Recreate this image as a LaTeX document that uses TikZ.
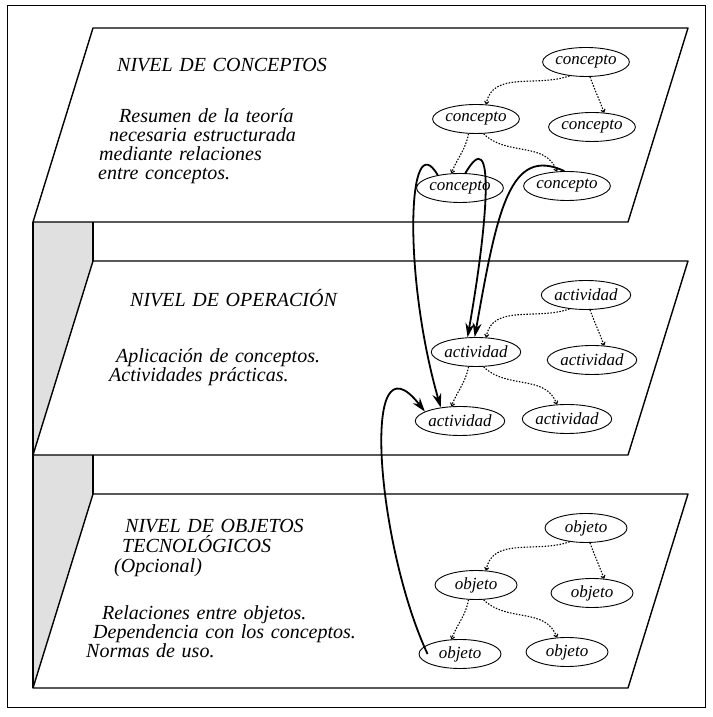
\documentclass[tikz,border=0pt]{standalone}
\usepackage{fontspec}
\setmainfont{Liberation Serif}
\usetikzlibrary{shapes.geometric,arrows.meta}
\tikzset{
  plane/.style={draw,line width=1.4pt,fill=white,line join=round},
  wall/.style={fill=black!12},
  elem/.style={draw,ellipse,line width=0.9pt,minimum width=82pt,minimum height=29pt,
    inner sep=0pt,font=\fontsize{17}{17}\selectfont\itshape},
  rel/.style={dash pattern=on 1.5pt off 1.5pt,line width=1.1pt,-{To[length=3.5pt,width=5pt]}},
  link/.style={line width=1.8pt,-{Stealth[length=14pt,width=9pt,fill=black!75]}},
  txt/.style={anchor=base west,inner sep=0pt,text width=330pt,align=left,
    font=\fontsize{20}{19}\selectfont\itshape}
}
\begin{document}
\begin{tikzpicture}[x=1pt,y=1pt]
\useasboundingbox (0,0) rectangle (712,717);
\draw[line width=0.8pt] (7,10) rectangle (705,712);
\foreach \t in {456,223}{
  \fill[wall] (33,\t+39) -- (93,\t+39) -- (93,\t) -- (33,\t-194) -- cycle;
  \draw[line width=1.4pt] (93,\t+39) -- (93,\t);
}
\draw[line width=1.4pt] (33,495) -- (33,29);
\foreach \t/\w/\n in {689/concepto/c,456/actividad/a,223/objeto/o}{
\begin{scope}[yshift=\t pt]
\draw[plane] (93,0) -- (688,0) -- (628,-194) -- (33,-194) -- cycle;
\node[elem] (\n1) at (586,-34) {\w};
\node[elem] (\n2) at (476,-91) {\w};
\node[elem] (\n3) at (592,-99) {\w};
\node[elem] (\n4) at (460,-160) {\w};
\node[elem] (\n5) at (567,-158) {\w};
\draw[rel] (\n1.220) to[out=200,in=80] (\n2.55);
\draw[rel] (\n1.285) to[out=-70,in=110] (\n3.50);
\draw[rel] (\n2.243) to[out=-100,in=70] (\n4.120);
\draw[rel] (\n2.297) to[out=-45,in=110] (\n5.125);
\end{scope}
}
\node[txt] (tc) at (117,645) {NIVEL DE CONCEPTOS};
\node[txt] (bc) at (98,594) {\hspace*{21pt}Resumen de la teoría\\ \hspace*{11pt}necesaria estructurada\\
  \hspace*{1pt}mediante relaciones\\ entre conceptos.};
\node[txt] (ta) at (130,410) {NIVEL DE OPERACIÓN};
\node[txt] (ba) at (109,354) {\hspace*{7pt}Aplicación de conceptos.\\ Actividades prácticas.};
\node[txt,font=\fontsize{20}{20}\selectfont\itshape] (to) at (114,184)
  {\hspace*{11pt}NIVEL DE OBJETOS\\ \hspace*{8pt}TECNOLÓGICOS\\ (Opcional)};
\node[txt] (bo) at (86,97) {\hspace*{16pt}Relaciones entre objetos.\\ \hspace*{7pt}Dependencia con los conceptos.\\
  Normas de uso.};
\draw[link] (c4.150) .. controls +(120:60) and +(106:139) .. (a4.145);
\draw[link] (c4.70) .. controls +(60:60) and +(80:120) .. (a2.120);
\draw[link] (c5.100) .. controls +(155:60) and +(80:130) .. (a2.95);
\draw[link] ([xshift=9pt]o4.west) .. controls +(115:120) and +(128:107) .. (a4.165);
\end{tikzpicture}
\end{document}
